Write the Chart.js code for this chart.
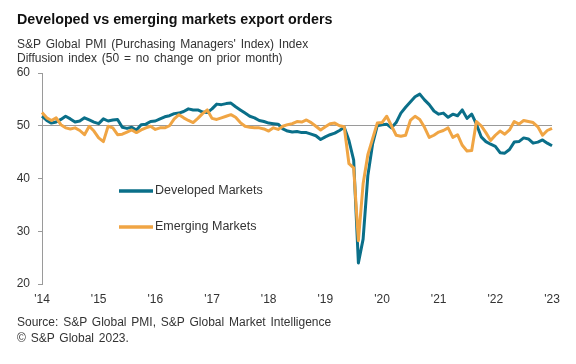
<!DOCTYPE html>
<html>
<head>
<meta charset="utf-8">
<script src="https://cdn.jsdelivr.net/npm/chart.js@4.4.0/dist/chart.umd.min.js"></script>
<style>
    html, body { margin: 0; padding: 0; background: #fff; }
    #wrap { position: relative; width: 576px; height: 364px; font-family: "Liberation Sans", Arial, sans-serif; color: #222; }
    .txt { position: absolute; left: 17px; white-space: nowrap; }
    #title { top: 11px; font-size: 14.3px; font-weight: bold; line-height: 16px; color: #111; }
    .sub { font-size: 12px; line-height: 14px; word-spacing: 1.5px; color: #333; }
    #chart { position: absolute; left: 0; top: 0; }
</style>
</head>
<body>
<div id="wrap">
    <canvas id="chart" width="576" height="364"></canvas>
    <div class="txt" id="title">Developed vs emerging markets export orders</div>
    <div class="txt sub" style="top:37px">S&amp;P Global PMI (Purchasing Managers' Index) Index</div>
    <div class="txt sub" style="top:51px">Diffusion index (50 = no change on prior month)</div>
    <div class="txt sub" style="top:315px">Source: S&amp;P Global PMI, S&amp;P Global Market Intelligence</div>
    <div class="txt sub" style="top:331px">© S&amp;P Global 2023.</div>
</div>
<script>
// monthly readings, one label every 12 months
const year_labels = ["'14", "'15", "'16", "'17", "'18", "'19", "'20", "'21", "'22", "'23"];

const developed = [
    51.8, 51.0, 50.5, 50.7, 51.2, 51.8, 51.3, 50.7, 50.9, 51.5, 51.1, 50.7,
    50.4, 51.3, 50.9, 51.1, 51.2, 49.7, 49.5, 49.7, 49.2, 50.2, 50.3, 50.8,
    50.9, 51.3, 51.7, 51.9, 52.3, 52.4, 52.7, 53.2, 53.0, 53.0, 52.6, 52.5,
    53.2, 54.1, 54.0, 54.2, 54.3, 53.6, 53.0, 52.4, 51.8, 51.5, 51.0, 50.8,
    50.5, 50.4, 50.3, 49.4, 49.0, 48.8, 48.9, 48.7, 48.7, 48.4, 48.1, 47.4,
    47.9, 48.3, 48.6, 49.1, 49.7, 47.2, 43.5, 24.0, 28.5, 40.5, 46.5, 50.0,
    50.2, 50.3, 49.6, 50.6, 52.4, 53.5, 54.5, 55.5, 56.0, 54.9, 54.0, 52.8,
    52.2, 52.4, 51.6, 52.2, 51.9, 53.0, 51.4, 52.2, 50.3, 47.9, 47.0, 46.5,
    46.1, 44.9, 44.8, 45.5, 46.9, 47.0, 47.7, 47.5, 46.7, 46.9, 47.3, 46.7,
    46.2
];

const emerging = [
    52.5, 51.5, 51.0, 51.5, 50.2, 49.6, 49.4, 49.6, 49.1, 48.3, 49.9, 49.0,
    47.7, 47.0, 49.9, 49.6, 48.3, 48.4, 48.8, 49.2, 48.7, 49.2, 49.6, 49.9,
    49.3, 49.6, 49.6, 50.0, 51.3, 52.1, 51.5, 51.0, 50.6, 51.4, 52.3, 53.0,
    51.4, 51.2, 51.5, 51.8, 52.1, 51.6, 50.6, 49.9, 49.7, 49.6, 49.6, 49.4,
    49.0, 49.6, 49.3, 49.9, 50.2, 50.4, 50.8, 50.7, 51.1, 50.6, 49.9, 49.2,
    49.8, 50.4, 50.5, 50.0, 49.8, 42.8, 42.0, 28.2, 39.0, 44.5, 47.5, 50.5,
    50.6, 51.8, 50.0, 48.2, 48.0, 48.2, 51.0, 51.8, 51.2, 49.7, 47.8, 48.2,
    48.8, 49.1, 49.6, 47.8, 48.3, 46.3, 45.2, 45.3, 50.8, 50.0, 48.7, 47.2,
    48.2, 49.0, 48.4, 49.2, 50.8, 50.3, 51.0, 50.8, 50.6, 49.8, 48.2, 49.1,
    49.5
];

const y_ticks = [20, 30, 40, 50, 60];

const months = developed.map((_, i) => i);

const TEAL = "#0a6f89";
const ORANGE = "#f0a544";
const TEXT = "#333";

// legend drawn inside the plot area
const inner_legend = {
    id: "inner_legend",
    afterDraw(chart) {
        const c = chart.ctx;
        const area = chart.chartArea;
        const rows = [area.top + 118, area.top + 154];
        chart.data.datasets.forEach((ds, i) => {
            const y = rows[i];
            const x = area.left + 77;
            c.save();
            c.strokeStyle = ds.borderColor;
            c.lineWidth = 3.5;
            c.beginPath();
            c.moveTo(x, y);
            c.lineTo(x + 34, y);
            c.stroke();
            c.fillStyle = TEXT;
            c.font = '12.5px "Liberation Sans", Arial, sans-serif';
            c.textBaseline = "middle";
            c.fillText(ds.label, x + 36, y);
            c.restore();
        });
    },
};

new Chart(document.getElementById("chart").getContext("2d"), {
    type: "line",
    data: {
        labels: months,
        datasets: [
            {
                label: "Developed Markets",
                data: developed,
                borderColor: TEAL,
                borderWidth: 3,
                order: 1,
            },
            {
                label: "Emerging Markets",
                data: emerging,
                borderColor: ORANGE,
                borderWidth: 3,
                order: 0,
            },
        ],
    },
    options: {
        responsive: false,
        animation: false,
        devicePixelRatio: 1,
        layout: {
            padding: { left: 0, right: 24, top: 73, bottom: 54 },
        },
        elements: {
            point: { radius: 0 },
            line: { tension: 0, borderJoinStyle: "round" },
        },
        plugins: {
            legend: { display: false },
            tooltip: { enabled: false },
        },
        scales: {
            x: {
                type: "category",
                offset: false,
                afterFit: (scale) => { scale.height = 26; },
                grid: { display: false, drawTicks: false },
                border: { display: false },
                ticks: {
                    autoSkip: false,
                    maxRotation: 0,
                    padding: 8,
                    color: TEXT,
                    font: { family: "Liberation Sans", size: 12 },
                    callback: (value, index) => (index % 12 === 0 ? year_labels[index / 12] : null),
                },
            },
            y: {
                min: 20,
                max: 60,
                afterFit: (scale) => { scale.width = 42; },
                afterBuildTicks: (scale) => {
                    scale.ticks = y_ticks.map((v) => ({ value: v }));
                },
                grid: {
                    color: (ctx) => (ctx.tick && ctx.tick.value === 50 ? "#9a9a9a" : "rgba(0,0,0,0)"),
                    tickColor: "#9a9a9a",
                    tickLength: 4,
                    lineWidth: 1,
                },
                border: { display: true, color: "#9a9a9a", width: 1 },
                ticks: {
                    padding: 8,
                    color: TEXT,
                    font: { family: "Liberation Sans", size: 12 },
                },
            },
        },
    },
    plugins: [inner_legend],
});
</script>
</body>
</html>
